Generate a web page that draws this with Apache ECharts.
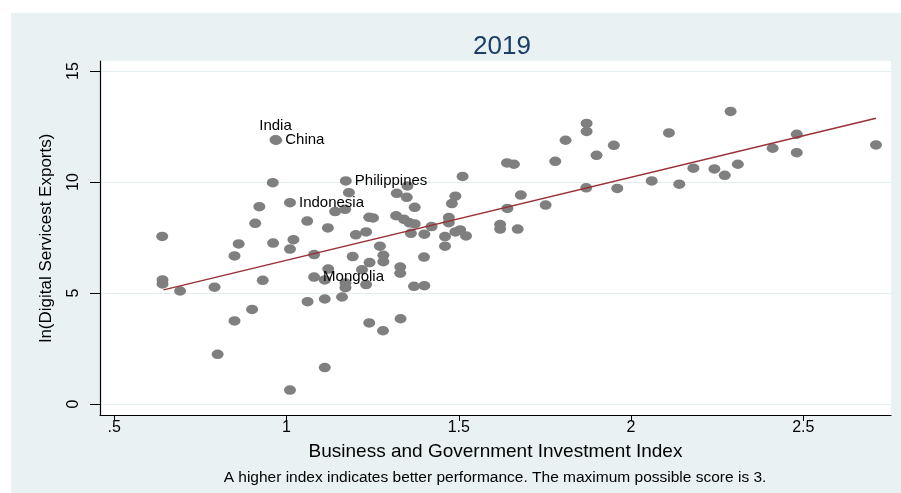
<!DOCTYPE html>
<html>
<head>
<meta charset="utf-8">
<script src="https://cdn.jsdelivr.net/npm/echarts@6/dist/echarts.min.js"></script>
<style>
html,body{margin:0;padding:0;background:#ffffff;}
#chart{width:901px;height:493px;}
</style>
</head>
<body>
<div id="chart"></div>
<script>
// ---- data ----
var xValues = [0.968,0.970,0.960,1.172,1.181,0.921,1.010,1.141,1.170,0.909,1.060,1.120,0.639,0.861,0.961,1.020,1.010,1.080,0.849,1.121,
  0.640,0.640,0.691,0.791,0.931,1.080,1.111,1.171,1.171,1.061,1.111,1.161,0.900,0.849,0.800,1.111,1.010,
  1.201,1.231,1.271,1.192,1.281,1.241,1.281,1.219,1.330,1.330,1.399,1.231,1.370,1.400,1.240,1.280,1.331,
  1.361,1.400,1.460,1.460,1.490,1.521,1.504,1.620,1.620,1.671,1.421,1.357,1.372,1.240,1.251,1.318,1.341,
  1.320,1.349,1.351,1.372,1.471,1.471,1.490,1.480,1.511,
  1.871,1.871,1.810,2.110,1.950,1.900,1.640,1.660,1.780,2.181,2.060,2.140,1.870,1.960,1.680,1.752,1.641,
  2.289,2.481,2.711,2.411,2.481,2.310,2.242,2.272];
var yValues = [11.90,11.88,9.97,10.05,9.52,8.89,9.07,8.67,8.77,8.14,8.24,7.93,7.55,7.21,7.25,7.40,6.98,6.73,6.67,6.08,
  5.59,5.41,5.09,5.26,5.57,5.72,5.59,5.45,5.24,4.61,4.73,4.82,4.26,3.74,2.24,1.64,0.63,
  7.62,7.75,7.11,6.64,6.70,6.37,6.41,6.05,6.17,5.89,6.62,5.38,5.30,5.33,3.65,3.30,3.84,
  7.69,7.65,7.54,7.11,7.75,7.57,7.84,8.08,7.88,7.88,7.99,8.16,8.11,8.41,8.38,8.48,8.32,
  9.49,9.31,9.82,8.86,8.40,8.17,9.36,9.03,10.25,
  12.64,12.28,11.88,12.21,11.65,11.20,10.86,10.80,10.93,10.62,10.05,9.90,9.74,9.71,9.41,8.96,8.81,
  13.18,12.15,11.67,11.52,11.32,10.80,10.59,10.30];
var pointLabels = {0:'India',1:'China',3:'Philippines',6:'Indonesia',25:'Mongolia'};
var fitLineX = [0.643, 2.711];
var fitLineY = [5.14, 12.87];
var xTicks = [0.5, 1, 1.5, 2, 2.5];
var xTickLabels = ['.5', '1', '1.5', '2', '2.5'];
var yTicks = [0, 5, 10, 15];
var yTickLabels = ['0', '5', '10', '15'];
var titleText = '2019';
var xTitle = 'Business and Government Investment Index';
var yTitle = 'ln(Digital Servicest Exports)';
var noteText = 'A higher index indicates better performance. The maximum possible score is 3.';

// ---- build options ----
var FONT = '"Liberation Sans", Arial, sans-serif';
var scatterData = xValues.map(function (x, i) {
  var item = { value: [x, yValues[i]] };
  if (pointLabels[i]) {
    item.name = pointLabels[i];
    item.label = {
      show: true,
      formatter: pointLabels[i],
      position: pointLabels[i] === 'India' ? 'top' : 'right',
      distance: pointLabels[i] === 'India' ? 2 : 3,
      color: '#000000',
      fontSize: 15,
      fontFamily: FONT
    };
  }
  return item;
});
var lineData = fitLineX.map(function (x, i) { return [x, fitLineY[i]]; });

var chart = echarts.init(document.getElementById('chart'), null, { renderer: 'canvas' });
chart.setOption({
  animation: false,
  backgroundColor: '#ffffff',
  graphic: [{
    type: 'rect', z: -10, silent: true,
    shape: { x: 11, y: 13, width: 890, height: 480 },
    style: { fill: '#eaf1f3' }
  }],
  title: [
    { text: titleText, left: 497, top: 29, textAlign: 'center',
      textStyle: { fontFamily: FONT, fontSize: 26, fontWeight: 'normal', color: '#1a3f66' } },
    { text: noteText, left: 490, top: 465, textAlign: 'center',
      textStyle: { fontFamily: FONT, fontSize: 15.5, fontWeight: 'normal', color: '#000000' } }
  ],
  grid: { left: 100, top: 61, width: 791, height: 354, show: true,
    backgroundColor: '#ffffff', borderWidth: 0, containLabel: false },
  xAxis: {
    type: 'value', min: 0.4585, max: 2.7546,
    name: xTitle, nameLocation: 'middle', nameGap: 27,
    nameTextStyle: { fontFamily: FONT, fontSize: 19, color: '#000000' },
    axisLine: { show: true, onZero: false, lineStyle: { color: '#000000', width: 1.2 } },
    axisTick: { show: true, length: 6, customValues: xTicks, lineStyle: { color: '#000000' } },
    axisLabel: { customValues: xTicks, margin: 5, fontFamily: FONT, fontSize: 16, color: '#000000',
      formatter: function (v) { var i = xTicks.indexOf(v); return i >= 0 ? xTickLabels[i] : ''; } },
    splitLine: { show: false }
  },
  yAxis: {
    type: 'value', min: -0.495, max: 15.45,
    name: yTitle, nameLocation: 'middle', nameGap: 45, nameRotate: 90,
    nameTextStyle: { fontFamily: FONT, fontSize: 17, color: '#000000' },
    axisLine: { show: true, onZero: false, lineStyle: { color: '#000000', width: 1.2 } },
    axisTick: { show: true, length: 10, customValues: yTicks, lineStyle: { color: '#000000' } },
    axisLabel: { customValues: yTicks, rotate: 90, margin: 18, fontFamily: FONT, fontSize: 16, color: '#000000',
      formatter: function (v) { var i = yTicks.indexOf(v); return i >= 0 ? yTickLabels[i] : ''; } },
    splitLine: { show: true, lineStyle: { color: '#e3eef0', width: 1.2 } }
  },
  series: [
    { type: 'scatter', data: scatterData, symbol: 'circle', symbolSize: [12, 9.5],
      itemStyle: { color: '#7f7f7f', opacity: 1 }, z: 3 },
    { type: 'line', data: lineData, symbol: 'none', z: 4,
      lineStyle: { color: '#983036', width: 1.5 } }
  ]
});
</script>
</body>
</html>
